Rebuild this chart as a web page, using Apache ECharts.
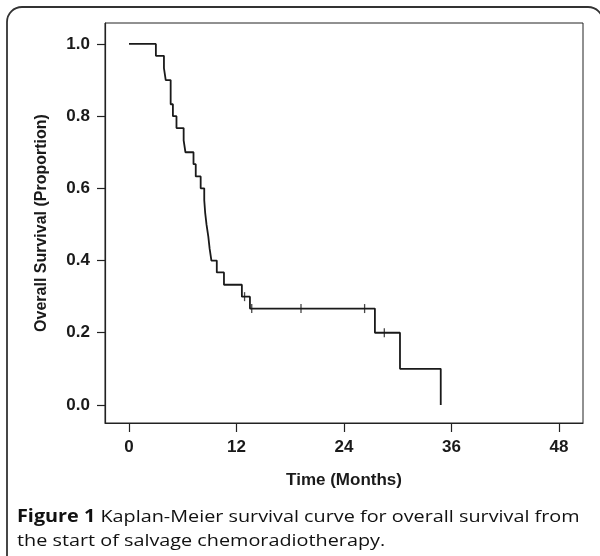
<!DOCTYPE html>
<html>
<head>
<meta charset="utf-8">
<script src="https://cdn.jsdelivr.net/npm/echarts@6/dist/echarts.min.js"></script>
<style>
html,body{margin:0;padding:0;background:#fff;}
#chart{width:600px;height:556px;}
</style>
</head>
<body>
<div id="chart"></div>
<script>
// Kaplan-Meier step data (time in months, survival proportion after the event)
const eventTimes = [0, 3.0, 3.9, 4.1, 4.65, 4.9, 5.3, 6.1, 6.3, 7.2, 7.45, 8.0, 8.4, 8.5, 8.65, 8.85, 9.0, 9.2, 9.8, 10.6, 12.6, 13.5, 27.45, 30.25, 34.8];
const survival   = [1, 0.967, 0.933, 0.9, 0.833, 0.8, 0.767, 0.733, 0.7, 0.667, 0.633, 0.6, 0.567, 0.533, 0.5, 0.467, 0.433, 0.4, 0.367, 0.333, 0.3, 0.267, 0.2, 0.1, 0];
// censored observations
const censorTimes  = [12.9, 13.7, 19.2, 26.3, 28.5];
const censorValues = [0.3, 0.267, 0.267, 0.267, 0.2];
// tick labels
const xTicks = [0, 12, 24, 36, 48];
const yTicks = [0, 0.2, 0.4, 0.6, 0.8, 1.0];
const xTitle = 'Time (Months)';
const yTitle = 'Overall Survival (Proportion)';
const captionBold = 'Figure 1';
const captionLine1 = ' Kaplan-Meier survival curve for overall survival from';
const captionLine2 = 'the start of salvage chemoradiotherapy.';

const chart = echarts.init(document.getElementById('chart'), null, {renderer: 'canvas'});
const curve = eventTimes.map((t, i) => [t, survival[i]]);
const censors = censorTimes.map((t, i) => [t, censorValues[i]]);
const labelFont = {fontFamily: 'Liberation Sans, Arial, sans-serif', fontSize: 17, fontWeight: 'bold', color: '#1a1a1a'};
const yNameFont = {fontFamily: 'Liberation Sans, Arial, sans-serif', fontSize: 16, fontWeight: 'bold', color: '#1a1a1a'};

chart.setOption({
  animation: false,
  grid: {left: 105, top: 23, right: 17, bottom: 133, show: true, borderColor: '#222', borderWidth: 1, backgroundColor: 'transparent'},
  xAxis: {
    type: 'value', min: -2.68, max: 50.68,
    name: xTitle, nameLocation: 'middle', nameGap: 49,
    nameTextStyle: labelFont,
    axisLine: {show: true, onZero: false, lineStyle: {color: '#222', width: 1.2}},
    axisTick: {show: true, inside: false, length: 9, customValues: xTicks, lineStyle: {color: '#222', width: 1.2}},
    axisLabel: Object.assign({customValues: xTicks, margin: 16}, labelFont),
    splitLine: {show: false}
  },
  yAxis: {
    type: 'value', min: -0.05, max: 1.058,
    name: yTitle, nameLocation: 'middle', nameGap: 55, nameRotate: 90,
    nameTextStyle: yNameFont,
    axisLine: {show: true, onZero: false, lineStyle: {color: '#222', width: 1.2}},
    axisTick: {show: true, inside: false, length: 8, customValues: yTicks, lineStyle: {color: '#222', width: 1.2}},
    axisLabel: Object.assign({customValues: yTicks, margin: 15, formatter: v => v.toFixed(1)}, labelFont),
    splitLine: {show: false}
  },
  series: [
    {
      type: 'line', step: 'end', data: curve, symbol: 'none',
      lineStyle: {color: '#1a1a1a', width: 1.8}
    },
    {
      type: 'scatter', data: censors, symbol: 'rect', symbolSize: [1.3, 9],
      itemStyle: {color: '#1a1a1a'}
    }
  ],
  graphic: [
    {type: 'rect', shape: {x: 7, y: 7, width: 596, height: 570, r: 15}, style: {fill: 'none', stroke: '#333', lineWidth: 1.8}, silent: true},
    {type: 'text', x: 17, y: 505, scaleX: 1.165, style: {
      text: '{b|' + captionBold + '}' + captionLine1 + '\n' + captionLine2,
      rich: {b: {fontWeight: 'bold', fontFamily: 'Open Sans, sans-serif', fontSize: 17, fill: '#111'}},
      fontFamily: 'Open Sans, sans-serif', fontSize: 17, fill: '#111', lineHeight: 24
    }}
  ]
});
</script>
</body>
</html>
